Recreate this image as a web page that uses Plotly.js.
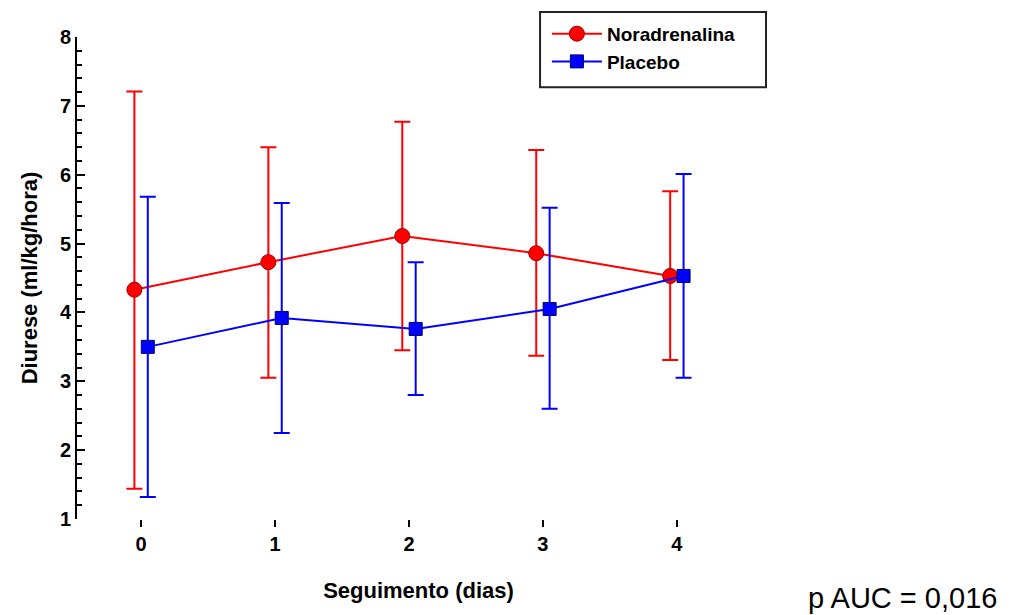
<!DOCTYPE html>
<html>
<head>
<meta charset="utf-8">
<script src="https://cdn.plot.ly/plotly-3.0.1.min.js"></script>
<style>html,body{margin:0;padding:0;background:#fff;}#chart{width:1011px;height:615px;}</style>
</head>
<body>
<div id="chart"></div>
<script>
// Data
const days = [0, 1, 2, 3, 4];
const dayLabels = ['0', '1', '2', '3', '4'];
const noraMean  = [4.33, 4.73, 5.11, 4.86, 4.53];
const noraUpper = [7.21, 6.40, 6.77, 6.36, 5.76];
const noraLower = [1.44, 3.05, 3.45, 3.37, 3.31];
const plaMean   = [3.50, 3.92, 3.76, 4.05, 4.53];
const plaUpper  = [5.68, 5.59, 4.73, 5.52, 6.01];
const plaLower  = [1.32, 2.25, 2.80, 2.60, 3.05];
const yTicks = [1, 2, 3, 4, 5, 6, 7, 8];
const yLabels = ['1', '2', '3', '4', '5', '6', '7', '8'];

const dodge = 0.05;
const fam = '"Liberation Sans", Arial, sans-serif';

const nora = {
  x: days.map(d => d - dodge), y: noraMean, name: 'Noradrenalina',
  type: 'scatter', mode: 'lines+markers',
  line: {color: '#ff0000', width: 2},
  marker: {symbol: 'circle', size: 15, color: '#ff0000', line: {color: '#990000', width: 1}},
  error_y: {type: 'data', symmetric: false,
    array: noraUpper.map((u, i) => u - noraMean[i]),
    arrayminus: noraLower.map((l, i) => noraMean[i] - l),
    color: '#ff0000', thickness: 2, width: 8}
};
const pla = {
  x: days.map(d => d + dodge), y: plaMean, name: 'Placebo',
  type: 'scatter', mode: 'lines+markers',
  line: {color: '#0000ff', width: 2},
  marker: {symbol: 'square', size: 13, color: '#0000ff', line: {color: '#000066', width: 1}},
  error_y: {type: 'data', symmetric: false,
    array: plaUpper.map((u, i) => u - plaMean[i]),
    arrayminus: plaLower.map((l, i) => plaMean[i] - l),
    color: '#0000ff', thickness: 2, width: 8}
};

const layout = {
  width: 1011, height: 615,
  margin: {l: 77, r: 251, t: 37, b: 96},
  paper_bgcolor: '#ffffff', plot_bgcolor: '#ffffff',
  font: {family: fam, color: '#000', size: 20},
  showlegend: true,
  legend: {
    x: 0.688, y: 1.046, xanchor: 'left', yanchor: 'top',
    borderwidth: 0, bgcolor: 'rgba(0,0,0,0)',
    font: {family: fam, size: 19, color: '#000', weight: 'bold'},
    itemwidth: 50, tracegroupgap: 0
  },
  shapes: [{
    type: 'rect', xref: 'paper', yref: 'paper',
    x0: 0.678, x1: 1.0088, y0: 0.896, y1: 1.0519,
    line: {color: '#222', width: 2}, fillcolor: 'rgba(0,0,0,0)', layer: 'above'
  }],
  xaxis: {
    range: [-0.4785, 4.6206], showgrid: false, zeroline: false, showline: false,
    tickmode: 'array', tickvals: days, ticktext: dayLabels.map(t => '<b>' + t + '</b>'),
    ticks: 'outside', ticklen: 7, tickwidth: 1.5, tickcolor: '#000',
    tickfont: {family: fam, size: 20, color: '#000'},
    title: {text: 'Seguimento (dias)', font: {family: fam, size: 22, color: '#000', weight: 'bold'}, standoff: 28}
  },
  yaxis: {
    range: [1, 8], showgrid: false, zeroline: false,
    showline: true, linecolor: '#000', linewidth: 2,
    tickmode: 'array', tickvals: yTicks, ticktext: yLabels.map(t => '<b>' + t + '</b>'),
    ticks: 'inside', ticklen: 8, tickwidth: 2, tickcolor: '#000',
    minor: {dtick: 0.2, ticks: 'inside', ticklen: 5, tickwidth: 2, tickcolor: '#000'},
    tickfont: {family: fam, size: 20, color: '#000'},
    title: {text: 'Diurese (ml/kg/hora)', font: {family: fam, size: 22, color: '#000', weight: 'bold'}, standoff: 16}
  },
  annotations: [{
    text: 'p AUC = 0,016', xref: 'paper', yref: 'paper',
    x: 1.068, y: -0.164, xanchor: 'left', yanchor: 'middle', showarrow: false,
    font: {family: fam, size: 29, color: '#000'}
  }]
};

Plotly.newPlot('chart', [nora, pla], layout, {displayModeBar: false, staticPlot: true});
</script>
</body>
</html>
